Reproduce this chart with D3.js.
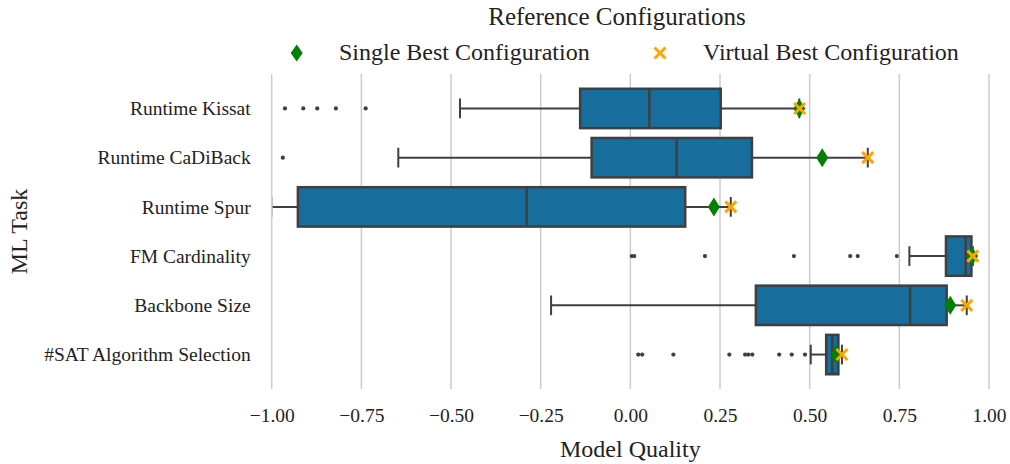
<!DOCTYPE html>
<html>
<head>
<meta charset="utf-8">
<script src="https://cdn.jsdelivr.net/npm/d3@7"></script>
<style>
  body { margin: 0; background: #fff; }
  svg { font-family: "Liberation Serif", "DejaVu Serif", serif; }
  .tick text { fill: #222; }
</style>
</head>
<body>
<svg id="chart" width="1010" height="464"></svg>
<script>
// ML tasks, top to bottom
var tasks = ["Runtime Kissat", "Runtime CaDiBack", "Runtime Spur",
             "FM Cardinality", "Backbone Size", "#SAT Algorithm Selection"];

// box statistics per task (model quality)
var whiskerLow  = [-0.475, -0.647, -1.000, 0.778, -0.221, 0.503];
var q1          = [-0.140, -0.108, -0.927, 0.880,  0.350, 0.546];
var median      = [ 0.053,  0.129, -0.289, 0.935,  0.780, 0.563];
var q3          = [ 0.252,  0.339,  0.153, 0.951,  0.882, 0.580];
var whiskerHigh = [ 0.471,  0.662,  0.280, 0.955,  0.938, 0.590];

var outliers = [
  [-0.963, -0.912, -0.873, -0.821, -0.738],
  [-0.969],
  [],
  [0.004, 0.011, 0.208, 0.456, 0.613, 0.634, 0.743],
  [],
  [0.022, 0.033, 0.120, 0.276, 0.320, 0.329, 0.340, 0.415, 0.450, 0.487]
];

// reference configurations
var singleBest  = [0.471, 0.535, 0.233, 0.953, 0.892, 0.574];
var virtualBest = [0.472, 0.662, 0.280, 0.955, 0.938, 0.590];

var xTicks = [-1, -0.75, -0.5, -0.25, 0, 0.25, 0.5, 0.75, 1];

var svg = d3.select("#chart");
var plotTop = 74, plotBottom = 389;

var x = d3.scaleLinear().domain([-1, 1]).range([271.7, 989]);
var y = d3.scaleLinear().domain([-0.7, 5.7]).range([plotTop, plotBottom]);
var band = y(1) - y(0);
var boxH = band * 0.8;

var fillBlue = "#176d9c", lineGray = "#3f3f3f";

// axes area clip (x limits are -1..1)
svg.append("defs").append("clipPath").attr("id", "plotclip")
  .append("rect")
  .attr("x", x(-1) + 1).attr("y", plotTop)
  .attr("width", x(1) - x(-1) + 10).attr("height", plotBottom - plotTop);

// grid
svg.append("g").selectAll("line")
  .data(xTicks).enter().append("line")
  .attr("x1", d => x(d)).attr("x2", d => x(d))
  .attr("y1", plotTop).attr("y2", plotBottom)
  .attr("stroke", "#cccccc").attr("stroke-width", 1.5);

// axes
var fmt = d => (d < 0 ? "\u2212" : "") + Math.abs(d).toFixed(2);
var xAxis = svg.append("g")
  .attr("transform", "translate(0," + plotBottom + ")")
  .call(d3.axisBottom(x).tickValues(xTicks).tickFormat(fmt).tickSize(0).tickPadding(19));
xAxis.select(".domain").remove();
xAxis.selectAll("text").attr("font-size", 19.5).attr("font-family", "Liberation Serif");

var yAxis = svg.append("g")
  .attr("transform", "translate(" + x(-1) + ",0)")
  .call(d3.axisLeft(y).tickValues(d3.range(tasks.length)).tickFormat(i => tasks[i]).tickSize(0).tickPadding(21));
yAxis.select(".domain").remove();
yAxis.selectAll("text").attr("font-size", 19.5).attr("font-family", "Liberation Serif");

// axis titles
svg.append("text")
  .attr("x", x(0)).attr("y", 457)
  .attr("text-anchor", "middle")
  .attr("font-size", 24).attr("fill", "#222")
  .text("Model Quality");

svg.append("text")
  .attr("transform", "translate(27," + ((plotTop + plotBottom) / 2) + ") rotate(-90)")
  .attr("text-anchor", "middle")
  .attr("font-size", 24).attr("fill", "#222")
  .text("ML Task");

// boxes
var rows = svg.append("g").attr("clip-path", "url(#plotclip)")
  .selectAll("g")
  .data(tasks).enter().append("g")
  .attr("transform", (d, i) => "translate(0," + y(i) + ")");

// whiskers
rows.append("line")
  .attr("x1", (d, i) => x(whiskerLow[i])).attr("x2", (d, i) => x(q1[i]))
  .attr("stroke", lineGray).attr("stroke-width", 2);
rows.append("line")
  .attr("x1", (d, i) => x(q3[i])).attr("x2", (d, i) => x(whiskerHigh[i]))
  .attr("stroke", lineGray).attr("stroke-width", 2);
// caps
rows.append("line")
  .attr("x1", (d, i) => x(whiskerLow[i])).attr("x2", (d, i) => x(whiskerLow[i]))
  .attr("y1", -boxH / 4).attr("y2", boxH / 4)
  .attr("stroke", lineGray).attr("stroke-width", 2);
rows.append("line")
  .attr("x1", (d, i) => x(whiskerHigh[i])).attr("x2", (d, i) => x(whiskerHigh[i]))
  .attr("y1", -boxH / 4).attr("y2", boxH / 4)
  .attr("stroke", lineGray).attr("stroke-width", 2);

rows.append("rect")
  .attr("x", (d, i) => x(q1[i]))
  .attr("width", (d, i) => x(q3[i]) - x(q1[i]))
  .attr("y", -boxH / 2).attr("height", boxH)
  .attr("fill", fillBlue).attr("stroke", lineGray).attr("stroke-width", 2.5);

rows.append("line")
  .attr("x1", (d, i) => x(median[i])).attr("x2", (d, i) => x(median[i]))
  .attr("y1", -boxH / 2).attr("y2", boxH / 2)
  .attr("stroke", lineGray).attr("stroke-width", 2.5);

// fliers
rows.selectAll("circle")
  .data((d, i) => outliers[i]).enter().append("circle")
  .attr("cx", v => x(v)).attr("cy", 0).attr("r", 2.1)
  .attr("fill", lineGray);

// reference markers
function diamond(g, w, h) {
  return g.append("path")
    .attr("d", "M0," + (-h / 2) + "L" + (w / 2) + ",0L0," + (h / 2) + "L" + (-w / 2) + ",0Z")
    .attr("fill", "green");
}
function cross(g, s) {
  return g.append("path")
    .attr("d", "M" + (-s / 2) + "," + (-s / 2) + "L" + (s / 2) + "," + (s / 2) +
               "M" + (-s / 2) + "," + (s / 2) + "L" + (s / 2) + "," + (-s / 2))
    .attr("stroke", "orange").attr("stroke-width", 3).attr("fill", "none");
}

rows.each(function(d, i) {
  var g = d3.select(this);
  diamond(g.append("g").attr("transform", "translate(" + x(singleBest[i]) + ",0)"), 12, 19);
});
rows.each(function(d, i) {
  var g = d3.select(this);
  cross(g.append("g").attr("transform", "translate(" + x(virtualBest[i]) + ",0)"), 11);
});

// legend
var legend = svg.append("g");
legend.append("text")
  .attr("x", 617).attr("y", 25)
  .attr("text-anchor", "middle")
  .attr("font-size", 25).attr("fill", "#222")
  .text("Reference Configurations");

diamond(legend.append("g").attr("transform", "translate(296.7,53)"), 12, 17);
legend.append("text")
  .attr("x", 339).attr("y", 60)
  .attr("font-size", 24).attr("fill", "#222")
  .text("Single Best Configuration");

cross(legend.append("g").attr("transform", "translate(660,53)"), 11);
legend.append("text")
  .attr("x", 703).attr("y", 60)
  .attr("font-size", 24).attr("fill", "#222")
  .text("Virtual Best Configuration");
</script>
</body>
</html>
